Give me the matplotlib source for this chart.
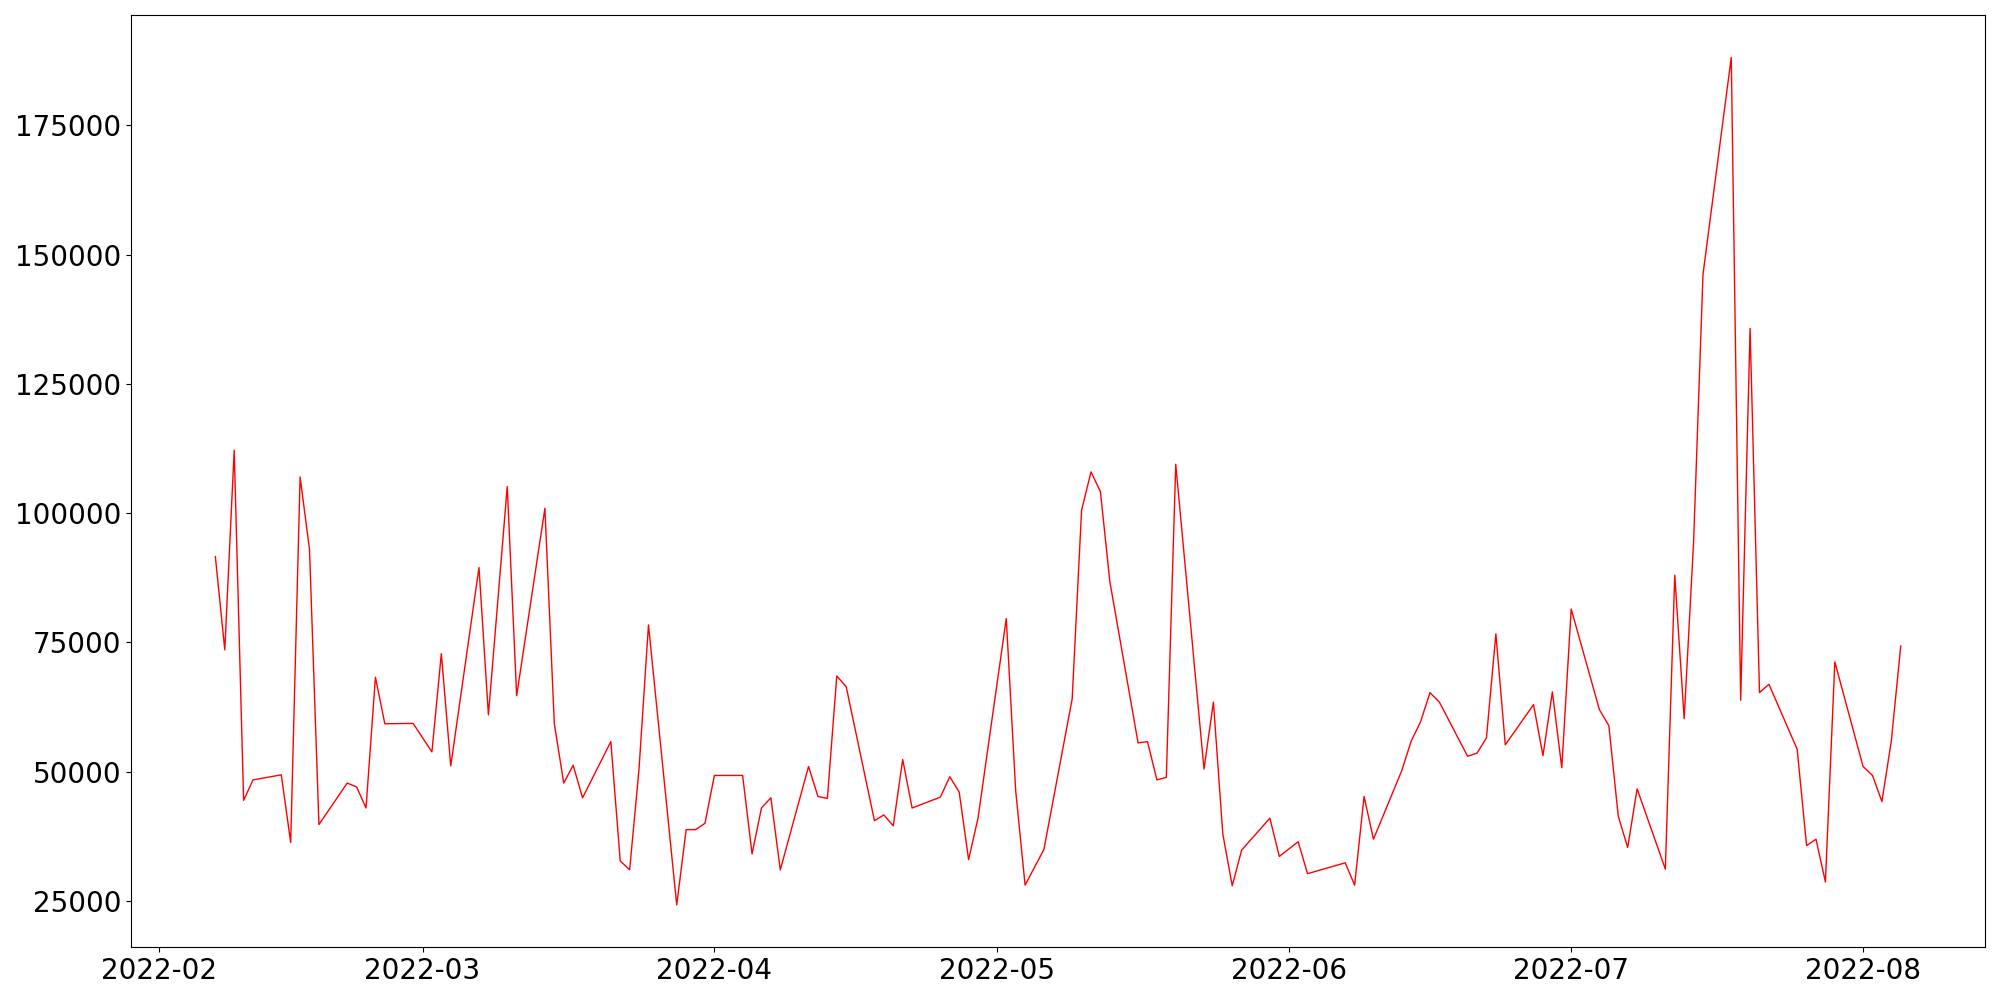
import matplotlib
matplotlib.use("Agg")
import matplotlib.pyplot as plt
import pandas as pd

dates = [
    "2022-02-07", "2022-02-08", "2022-02-09", "2022-02-10", "2022-02-11",
    "2022-02-14", "2022-02-15", "2022-02-16", "2022-02-17", "2022-02-18",
    "2022-02-21", "2022-02-22", "2022-02-23", "2022-02-24", "2022-02-25",
    "2022-02-28", "2022-03-02", "2022-03-03", "2022-03-04",
    "2022-03-07", "2022-03-08", "2022-03-10", "2022-03-11",
    "2022-03-14", "2022-03-15", "2022-03-16", "2022-03-17", "2022-03-18",
    "2022-03-21", "2022-03-22", "2022-03-23", "2022-03-24", "2022-03-25",
    "2022-03-28", "2022-03-29", "2022-03-30", "2022-03-31", "2022-04-01",
    "2022-04-04", "2022-04-05", "2022-04-06", "2022-04-07", "2022-04-08",
    "2022-04-11", "2022-04-12", "2022-04-13", "2022-04-14", "2022-04-15",
    "2022-04-18", "2022-04-19", "2022-04-20", "2022-04-21", "2022-04-22",
    "2022-04-25", "2022-04-26", "2022-04-27", "2022-04-28", "2022-04-29",
    "2022-05-02", "2022-05-03", "2022-05-04", "2022-05-06",
    "2022-05-09", "2022-05-10", "2022-05-11", "2022-05-12", "2022-05-13",
    "2022-05-16", "2022-05-17", "2022-05-18", "2022-05-19", "2022-05-20",
    "2022-05-23", "2022-05-24", "2022-05-25", "2022-05-26", "2022-05-27",
    "2022-05-30", "2022-05-31", "2022-06-02", "2022-06-03",
    "2022-06-07", "2022-06-08", "2022-06-09", "2022-06-10",
    "2022-06-13", "2022-06-14", "2022-06-15", "2022-06-16", "2022-06-17",
    "2022-06-20", "2022-06-21", "2022-06-22", "2022-06-23", "2022-06-24",
    "2022-06-27", "2022-06-28", "2022-06-29", "2022-06-30", "2022-07-01",
    "2022-07-04", "2022-07-05", "2022-07-06", "2022-07-07", "2022-07-08",
    "2022-07-11", "2022-07-12", "2022-07-13", "2022-07-14", "2022-07-15",
    "2022-07-18", "2022-07-19", "2022-07-20", "2022-07-21", "2022-07-22",
    "2022-07-25", "2022-07-26", "2022-07-27", "2022-07-28", "2022-07-29",
    "2022-08-01", "2022-08-02", "2022-08-03", "2022-08-04", "2022-08-05",
]

values = [
    91600, 73580, 112170, 44480, 48430,
    49410, 36340, 107000, 92940, 39800,
    47810, 47070, 43000, 68280, 59280,
    59350, 53850, 72840, 51140,
    89490, 61000, 105150, 64700,
    100950, 59280, 47810, 51260, 44970,
    55830, 32770, 31040, 50650, 78390,
    24260, 38810, 38810, 40040, 49290,
    49290, 34120, 43000, 44970, 31040,
    51020, 45220, 44850, 68520, 66430,
    40540, 41650, 39550, 52370, 43000,
    45100, 49040, 46080, 33010, 41030,
    79620, 46330, 28080, 34990,
    64090, 100580, 107980, 104160, 86770,
    55580, 55830, 48430, 48920, 109460,
    50520, 63470, 37950, 27960, 34860,
    41030, 33630, 36470, 30300,
    32400, 28080, 45220, 36960,
    50200, 55900, 59650, 65300, 63470,
    52990, 53610, 56560, 76660, 55210,
    62980, 53110, 65440, 50770, 81470,
    61990, 58910, 41400, 35360, 46700,
    31170, 88010, 60260, 94420, 146200,
    188130, 63840, 135720, 65320, 66920,
    54350, 35730, 36960, 28700, 71240,
    51020, 49290, 44230, 55950, 74320,
]

x = pd.to_datetime(dates)

fig, ax = plt.subplots(figsize=(20, 10), dpi=100)
ax.plot(x, values, color="red", linewidth=1.0)
ax.tick_params(axis="both", labelsize=20)
fig.tight_layout()
fig.savefig("out.png", dpi=100)
